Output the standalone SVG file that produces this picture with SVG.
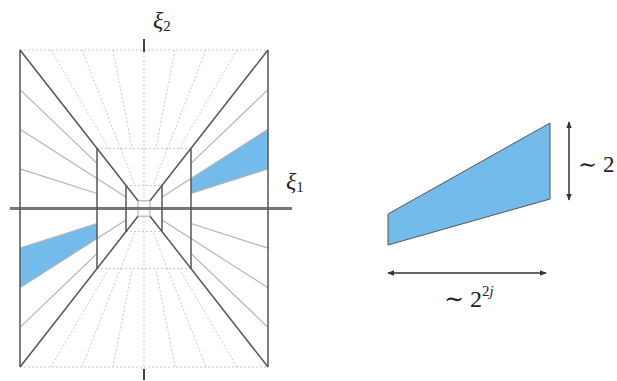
<svg xmlns="http://www.w3.org/2000/svg" width="617" height="381" viewBox="0 0 617 381">
<style>
.dark{stroke:#555;stroke-width:1.5;fill:none}
.light{stroke:#b4b4b4;stroke-width:1.2;fill:none}
.dot{stroke:#c8c8c8;stroke-width:1;stroke-dasharray:2 2;fill:none}
.axis{stroke:#777;stroke-width:3;fill:none}
.tick{stroke:#444;stroke-width:2;fill:none}
.blue{fill:#72bbeb;stroke:none}
.wedge{fill:#72bbeb;stroke:#555;stroke-width:1}
.lbl{font-family:"Liberation Serif","DejaVu Serif",serif;fill:#222}
.arr{stroke:#333;stroke-width:1.5;fill:none}
</style>
<defs>
<marker id="ah" viewBox="0 0 10 10" refX="9" refY="5" markerWidth="7" markerHeight="7" orient="auto-start-reverse" markerUnits="userSpaceOnUse">
<path d="M0,1 L10,5 L0,9 z" fill="#333"/>
</marker>
</defs>
<rect width="617" height="381" fill="#fff"/>
<g id="tiling">
<g id="blue-wedges">
<polygon class="blue" points="20,248.1 20,287.8 97,238.5 97,223.5"/>
<polygon class="blue" points="268,129.3 268,168.9 191,193.5 191,178.5"/>
</g>
<g id="dotted">
<line class="dot" x1="20" y1="50" x2="268" y2="50"/>
<line class="dot" x1="20" y1="367" x2="268" y2="367"/>
<line class="dot" x1="97" y1="148.4" x2="191" y2="148.4"/>
<line class="dot" x1="97" y1="268.6" x2="191" y2="268.6"/>
<line class="dot" x1="126" y1="185.5" x2="162" y2="185.5"/>
<line class="dot" x1="126" y1="231.5" x2="162" y2="231.5"/>
<line class="dot" x1="144" y1="52" x2="144" y2="200.8"/>
<line class="dot" x1="144" y1="216.2" x2="144" y2="367"/>
<line class="dot" x1="113" y1="50" x2="132.25" y2="148.4"/>
<line class="dot" x1="82" y1="50" x2="120.5" y2="148.4"/>
<line class="dot" x1="51" y1="50" x2="108.75" y2="148.4"/>
<line class="dot" x1="175" y1="50" x2="155.75" y2="148.4"/>
<line class="dot" x1="206" y1="50" x2="167.5" y2="148.4"/>
<line class="dot" x1="237" y1="50" x2="179.25" y2="148.4"/>
<line class="dot" x1="113" y1="367" x2="132.25" y2="268.6"/>
<line class="dot" x1="82" y1="367" x2="120.5" y2="268.6"/>
<line class="dot" x1="51" y1="367" x2="108.75" y2="268.6"/>
<line class="dot" x1="175" y1="367" x2="155.75" y2="268.6"/>
<line class="dot" x1="206" y1="367" x2="167.5" y2="268.6"/>
<line class="dot" x1="237" y1="367" x2="179.25" y2="268.6"/>
<line class="dot" x1="120.5" y1="148.4" x2="135" y2="185.5"/>
<line class="dot" x1="167.5" y1="148.4" x2="153" y2="185.5"/>
<line class="dot" x1="120.5" y1="268.6" x2="135" y2="231.5"/>
<line class="dot" x1="167.5" y1="268.6" x2="153" y2="231.5"/>
</g>
<g id="light-lines">
<line class="light" x1="20" y1="168.9" x2="97" y2="193.5"/>
<line class="light" x1="20" y1="129.3" x2="97" y2="178.5"/>
<line class="light" x1="20" y1="89.6" x2="97" y2="163.4"/>
<line class="light" x1="20" y1="248.1" x2="97" y2="223.5"/>
<line class="light" x1="20" y1="287.8" x2="97" y2="238.5"/>
<line class="light" x1="20" y1="327.4" x2="97" y2="253.6"/>
<line class="light" x1="268" y1="168.9" x2="191" y2="193.5"/>
<line class="light" x1="268" y1="129.3" x2="191" y2="178.5"/>
<line class="light" x1="268" y1="89.6" x2="191" y2="163.4"/>
<line class="light" x1="268" y1="248.1" x2="191" y2="223.5"/>
<line class="light" x1="268" y1="287.8" x2="191" y2="238.5"/>
<line class="light" x1="268" y1="327.4" x2="191" y2="253.6"/>
<line class="light" x1="97" y1="178.5" x2="126" y2="197"/>
<line class="light" x1="97" y1="238.5" x2="126" y2="220"/>
<line class="light" x1="191" y1="178.5" x2="162" y2="197"/>
<line class="light" x1="191" y1="238.5" x2="162" y2="220"/>
<rect class="light" x="138" y="200.8" width="12" height="15.4"/>
</g>
<g id="axis">
<line class="axis" x1="10" y1="208.5" x2="292" y2="208.5"/>
<line class="tick" x1="144" y1="39" x2="144" y2="52"/>
<line class="tick" x1="144" y1="369" x2="144" y2="380"/>
</g>
<g id="dark-lines">
<line class="dark" x1="20" y1="50" x2="20" y2="367"/>
<line class="dark" x1="268" y1="50" x2="268" y2="367"/>
<line class="dark" x1="97" y1="148.4" x2="97" y2="268.6"/>
<line class="dark" x1="191" y1="148.4" x2="191" y2="268.6"/>
<line class="dark" x1="126" y1="185.5" x2="126" y2="231.5"/>
<line class="dark" x1="162" y1="185.5" x2="162" y2="231.5"/>
<line class="dark" x1="20" y1="50" x2="138" y2="200.8"/>
<line class="dark" x1="268" y1="50" x2="150" y2="200.8"/>
<line class="dark" x1="20" y1="367" x2="138" y2="216.2"/>
<line class="dark" x1="268" y1="367" x2="150" y2="216.2"/>
</g>
<g id="axis-labels">
<text class="lbl" x="153" y="28" font-size="24" font-style="italic">ξ<tspan font-size="15" font-style="normal" dy="3">2</tspan></text>
<text class="lbl" x="286" y="189" font-size="24" font-style="italic">ξ<tspan font-size="15" font-style="normal" dy="3">1</tspan></text>
</g>
</g>
<g id="wedge">
<polygon class="wedge" points="388,214 550,123 550,199 388,245"/>
</g>
<g id="connectors">
<line class="arr" x1="569" y1="122" x2="569" y2="200" marker-start="url(#ah)" marker-end="url(#ah)"/>
<line class="arr" x1="388" y1="273" x2="546" y2="273" marker-start="url(#ah)" marker-end="url(#ah)"/>
</g>
<g id="size-labels">
<text class="lbl" x="578" y="172" font-size="23">∼ 2</text>
<text class="lbl" x="444" y="307" font-size="24">∼ 2<tspan font-size="15" dy="-11">2</tspan><tspan font-size="15" font-style="italic">j</tspan></text>
</g>
</svg>
